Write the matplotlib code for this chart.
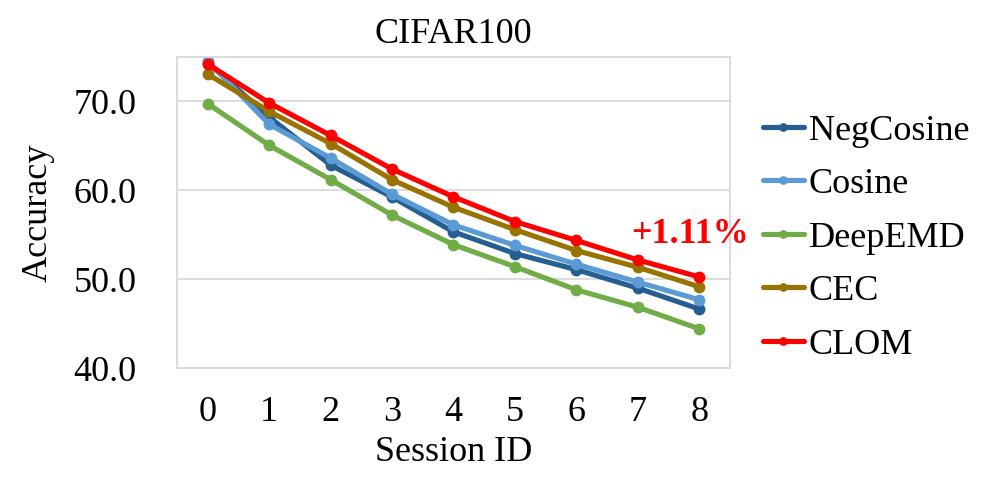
import matplotlib
matplotlib.use('Agg')
import matplotlib.pyplot as plt

plt.rcParams['font.family'] = ['Liberation Serif', 'DejaVu Serif']

sessions = [0, 1, 2, 3, 4, 5, 6, 7, 8]
methods = ["NegCosine", "Cosine", "DeepEMD", "CEC", "CLOM"]

negcosine = [74.36, 68.23, 62.84, 59.24, 55.32, 52.88, 51.07, 48.99, 46.64]
cosine = [74.55, 67.43, 63.63, 59.55, 56.11, 53.80, 51.68, 49.67, 47.68]
deepemd = [69.75, 65.06, 61.20, 57.21, 53.88, 51.40, 48.80, 46.84, 44.41]
cec = [73.07, 68.88, 65.26, 61.19, 58.09, 55.57, 53.22, 51.34, 49.14]
clom = [74.20, 69.83, 66.17, 62.39, 59.26, 56.48, 54.36, 52.16, 50.25]

yticks = [40, 50, 60, 70]
gain_text = "+1.11%"

colors = ['#255E91', '#5B9BD5', '#70AD47', '#997300', '#FF0000']

fig = plt.figure(figsize=(9.91, 4.99), dpi=100)
ax = fig.add_axes([0.1786, 0.2625, 0.558, 0.6233])

series = [negcosine, cosine, deepemd, cec, clom]
for vals, name, c in zip(series, methods, colors):
    ax.plot(sessions, vals, color=c, linewidth=3.7, marker='o', markersize=7.5,
            label=name, solid_capstyle='round')

ax.set_xlim(-0.5, 8.5)
ax.set_ylim(40, 75)
ax.set_xticks(sessions)
ax.set_yticks(yticks)
ax.set_yticklabels([f"{v:.1f}" for v in yticks])
ax.tick_params(axis='both', length=0, labelsize=26)
ax.tick_params(axis='y', pad=29)
ax.tick_params(axis='x', pad=20)

ax.grid(axis='y', color='#D9D9D9', linewidth=1.3)
ax.set_axisbelow(True)
for sp in ax.spines.values():
    sp.set_color('#D9D9D9')
    sp.set_linewidth(1.3)

ax.set_title("CIFAR100", fontsize=26, pad=10)
ax.set_xlabel("Session ID", fontsize=26, labelpad=5)
ax.set_ylabel("Accuracy", fontsize=26, labelpad=14)

ax.text(7.85, 55.0, gain_text, color='#FF0000', fontsize=26, fontweight='bold',
        ha='center', va='center')

leg = fig.legend(loc='upper left', bbox_to_anchor=(0.755, 0.80), frameon=False,
                 fontsize=26, handlelength=1.15, handletextpad=0.12,
                 labelspacing=0.56, markerscale=0.7, borderaxespad=0)

fig.savefig('out.png', dpi=100)
